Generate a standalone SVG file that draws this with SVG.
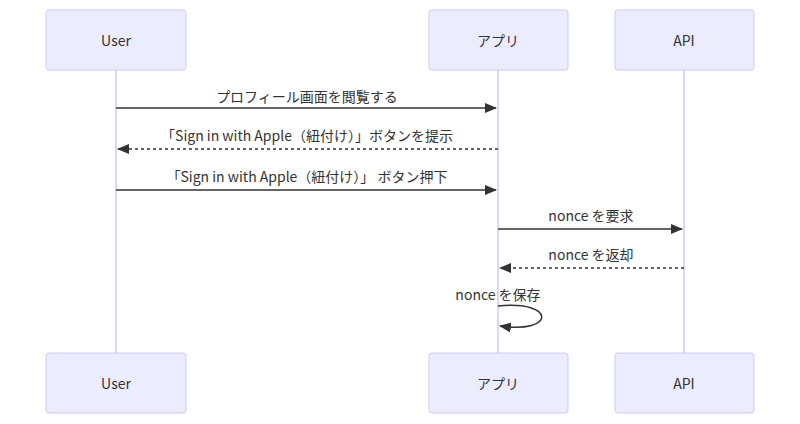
<svg xmlns="http://www.w3.org/2000/svg" width="800" height="424" viewBox="0 0 800 424">
<style>
.box{fill:#ECECFF;stroke:#D3C8F5;stroke-width:1}
.life{stroke:#D3C8F5;stroke-width:1.5}
.t{font-family:"Noto Sans CJK JP","Liberation Sans",sans-serif;font-size:14px;fill:#333;text-anchor:middle}
.a{font-family:"Noto Sans CJK JP","Liberation Sans",sans-serif;font-size:14px;fill:#333;text-anchor:middle;dominant-baseline:central}
.m{stroke:#333;stroke-width:1.5;fill:none}
.d{stroke-dasharray:3 3}
</style>
<defs>
<marker id="ah" viewBox="0 0 12 10" refX="11" refY="5" markerWidth="12" markerHeight="10" markerUnits="userSpaceOnUse" orient="auto"><path d="M0,0 L12,5 L0,10 z" fill="#333"/></marker>
</defs>
<g id="lifelines">
<line class="life" x1="116" y1="70" x2="116" y2="353"/>
<line class="life" x1="498" y1="70" x2="498" y2="353"/>
<line class="life" x1="684" y1="70" x2="684" y2="353"/>
</g>
<g id="user-top"><rect class="box" x="46" y="10" width="140" height="60" rx="3"/><text class="a" x="116" y="40">User</text></g>
<g id="app-top"><rect class="box" x="429" y="10" width="139" height="60" rx="3"/><text class="a" x="498" y="40">アプリ</text></g>
<g id="api-top"><rect class="box" x="615" y="10" width="139" height="60" rx="3"/><text class="a" x="684" y="40">API</text></g>
<g id="user-bottom"><rect class="box" x="46" y="353" width="140" height="60" rx="3"/><text class="a" x="116" y="383">User</text></g>
<g id="app-bottom"><rect class="box" x="429" y="353" width="139" height="60" rx="3"/><text class="a" x="498" y="383">アプリ</text></g>
<g id="api-bottom"><rect class="box" x="615" y="353" width="139" height="60" rx="3"/><text class="a" x="684" y="383">API</text></g>
<g id="connectors">
<text class="t" x="307" y="102">プロフィール画面を閲覧する</text>
<line class="m" x1="116" y1="108" x2="496" y2="108" marker-end="url(#ah)"/>
<text class="t" x="307" y="141">「Sign in with Apple（紐付け）」ボタンを提示</text>
<line class="m d" x1="498" y1="149" x2="118" y2="149" marker-end="url(#ah)"/>
<text class="t" x="307" y="182">「Sign in with Apple（紐付け）」 ボタン押下</text>
<line class="m" x1="116" y1="190" x2="496" y2="190" marker-end="url(#ah)"/>
<text class="t" x="591" y="221">nonce を要求</text>
<line class="m" x1="498" y1="229" x2="682" y2="229" marker-end="url(#ah)"/>
<text class="t" x="591" y="260">nonce を返却</text>
<line class="m d" x1="684" y1="268" x2="500" y2="268" marker-end="url(#ah)"/>
<text class="t" x="498" y="300">nonce を保存</text>
<path class="m" d="M498,306 C556,300 556,334 500,326" marker-end="url(#ah)"/>
</g>
</svg>
